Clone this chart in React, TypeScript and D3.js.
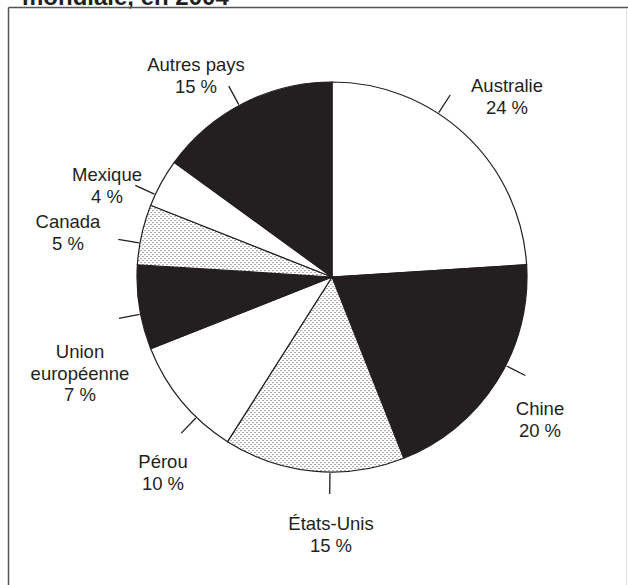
import React from "react";
import * as d3 from "d3";

const categories = ["Australie", "Chine", "États-Unis", "Pérou", "Union européenne", "Canada", "Mexique", "Autres pays"];
const values = [24, 20, 15, 10, 7, 5, 4, 15];
const fills = ["white", "black", "dots", "white", "black", "dots", "white", "black"];
const labelLines = [["Australie", "24 %"], ["Chine", "20 %"], ["États-Unis", "15 %"], ["Pérou", "10 %"], ["Union", "européenne", "7 %"], ["Canada", "5 %"], ["Mexique", "4 %"], ["Autres pays", "15 %"]];
// leader angle (deg, clockwise from top) and label anchor (x, first baseline)
const leaderAngles = [33, 117, 180.6, 224, 259, 280, 295, 331.6];
const labelPos = [[507, 92], [540, 415], [331, 530], [163, 468], [80, 358], [68, 228], [107, 181], [196, 71]];
const title = "mondiale, en 2004";

const INK = "#231f20";

export default function App() {
  const cx = 332, cy = 277, r = 195;
  const pie = d3.pie<number>().sort(null).value((d) => d)(values);
  const arc = d3.arc<d3.PieArcDatum<number>>().innerRadius(0).outerRadius(r);
  const fillOf = (f: string) => (f === "white" ? "#ffffff" : f === "black" ? INK : "url(#dots)");
  return (
    <svg width={628} height={585} style={{ position: "absolute", left: 0, top: 0, background: "#fff" }}
      fontFamily="'Liberation Sans', Arial, sans-serif">
      <defs>
        <pattern id="dots" width={4} height={4} patternUnits="userSpaceOnUse">
          <rect width={4} height={4} fill="#fff" />
          <path d="M0.3,2.2 L1.3,1.2 M2.3,4.2 L3.3,3.2" stroke="#333" strokeWidth={1} />
        </pattern>
      </defs>
      <text x={22} y={5} fontSize={24} fontWeight="bold" fill={INK}>{title}</text>
      <line x1={8.5} y1={7.5} x2={628} y2={7.5} stroke="#555" strokeWidth={1.5} />
      <line x1={8.5} y1={7.5} x2={8.5} y2={585} stroke="#555" strokeWidth={1.5} />
      <line x1={626.5} y1={8} x2={626.5} y2={585} stroke="#e4e4e4" strokeWidth={1} />
      <g transform={`translate(${cx},${cy})`}>
        {pie.map((p, i) => (
          <path key={categories[i]} d={arc(p) || ""} fill={fillOf(fills[i])} stroke={INK} strokeWidth={1.2} />
        ))}
        {leaderAngles.map((a, i) => {
          const t = (a * Math.PI) / 180;
          const r1 = r + 1, r2 = r + 22;
          return (
            <line key={"l" + i} x1={r1 * Math.sin(t)} y1={-r1 * Math.cos(t)} x2={r2 * Math.sin(t)} y2={-r2 * Math.cos(t)}
              stroke={INK} strokeWidth={1.3} />
          );
        })}
      </g>
      {labelLines.map((lines, i) => (
        <text key={"t" + i} x={labelPos[i][0]} y={labelPos[i][1]} fontSize={18.5} textAnchor="middle" fill={INK}>
          {lines.map((s, j) => (
            <tspan key={j} x={labelPos[i][0]} dy={j === 0 ? 0 : 21.5}>{s}</tspan>
          ))}
        </text>
      ))}
    </svg>
  );
}
